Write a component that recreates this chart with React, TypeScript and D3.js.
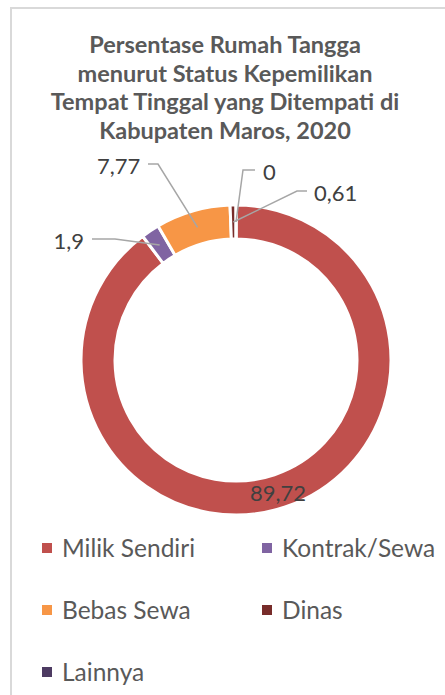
import { useMemo } from "react";
import { arc, pie, PieArcDatum } from "d3";

// kategori dan nilai (persen)
const categories = ["Milik Sendiri", "Kontrak/Sewa", "Bebas Sewa", "Dinas", "Lainnya"];
const values = [89.72, 1.9, 7.77, 0.61, 0];
const valueLabels = ["89,72", "1,9", "7,77", "0,61", "0"];
const colors = ["#C0504D", "#8064A2", "#F79646", "#772C2A", "#4D3B62"];

const titleLines = [
    "Persentase Rumah Tangga",
    "menurut Status Kepemilikan",
    "Tempat Tinggal yang Ditempati di",
    "Kabupaten Maros, 2020",
];

interface Slice {
    label: string;
    value: number;
    text: string;
    color: string;
}

// where each data label sits; line null = inside the ring at the centroid
interface LabelPlace {
    x: number;
    y: number;
    anchor: "start" | "end" | "middle";
    line: [number, number][] | null;
}

const labelPlaces: Record<string, LabelPlace> = {
    "Milik Sendiri": { x: 278, y: 492, anchor: "middle", line: null },
    "Kontrak/Sewa": { x: 84, y: 240, anchor: "end", line: [[92, 239], [115, 239]] },
    "Bebas Sewa": { x: 97, y: 165, anchor: "start", line: [[148, 164], [158, 164]] },
    "Dinas": { x: 314, y: 192, anchor: "start", line: [[307, 191], [297, 191]] },
    "Lainnya": { x: 263, y: 171, anchor: "start", line: [[255, 170], [243, 170]] },
};

const WIDTH = 445;
const HEIGHT = 695;
const FONT = "Lato, 'Open Sans', sans-serif";

function Donut({ data }: { data: Slice[] }) {
    const cx = 236;
    const cy = 360;
    const outer = 155;
    const inner = 121;

    const arcs = useMemo(
        () =>
            pie<Slice>()
                .sort(null)
                .value((d) => d.value)
                .startAngle(0)
                .endAngle(2 * Math.PI)(data),
        [data]
    );
    const ring = arc<PieArcDatum<Slice>>().innerRadius(inner).outerRadius(outer);

    return (
        <g>
            <g transform={`translate(${cx}, ${cy})`}>
                {arcs.map((a) => (
                    <path
                        key={`slice-${a.data.label}`}
                        d={ring(a) ?? ""}
                        fill={a.data.color}
                        stroke="#fff"
                        strokeWidth={3}
                    />
                ))}
            </g>
            {arcs.map((a) => {
                const place = labelPlaces[a.data.label];
                const [px, py] = ring.centroid(a);
                const pts = place.line ? [...place.line, [cx + px, cy + py]] : null;
                return (
                    <g key={`label-${a.data.label}`}>
                        {pts && (
                            <polyline
                                points={pts.map((p) => p.join(",")).join(" ")}
                                fill="none"
                                stroke="#A6A6A6"
                                strokeWidth={1.5}
                            />
                        )}
                        <text
                            x={place.x}
                            y={place.y}
                            textAnchor={place.anchor}
                            dominantBaseline="central"
                            fontSize={22}
                            fill="#404040"
                        >
                            {a.data.text}
                        </text>
                    </g>
                );
            })}
        </g>
    );
}

function Legend({ data }: { data: Slice[] }) {
    const colX = [42, 262];
    const rowY = [548, 610, 672];
    return (
        <g>
            {data.map((d, i) => {
                const x = colX[i % 2];
                const y = rowY[Math.floor(i / 2)];
                return (
                    <g key={`legend-${d.label}`} transform={`translate(${x}, ${y})`}>
                        <rect x={0} y={-5} width={10} height={10} fill={d.color} />
                        <text x={20} y={9} fontSize={24.5} fill="#595959">
                            {d.label}
                        </text>
                    </g>
                );
            })}
        </g>
    );
}

export default function App() {
    const data: Slice[] = categories.map((label, i) => ({
        label,
        value: values[i],
        text: valueLabels[i],
        color: colors[i],
    }));

    return (
        <svg
            width={WIDTH}
            height={HEIGHT}
            style={{ position: "absolute", left: 0, top: 0, background: "#fff" }}
            fontFamily={FONT}
        >
            <rect x={11} y={8} width={WIDTH + 20} height={HEIGHT + 20} fill="#fff" stroke="#D9D9D9" strokeWidth={2} />
            <text textAnchor="middle" fontWeight="bold" fontSize={23.5} fill="#595959">
                {titleLines.map((line, i) => (
                    <tspan key={line} x={225} y={53 + i * 28.5}>
                        {line}
                    </tspan>
                ))}
            </text>
            <Donut data={data} />
            <Legend data={data} />
        </svg>
    );
}
